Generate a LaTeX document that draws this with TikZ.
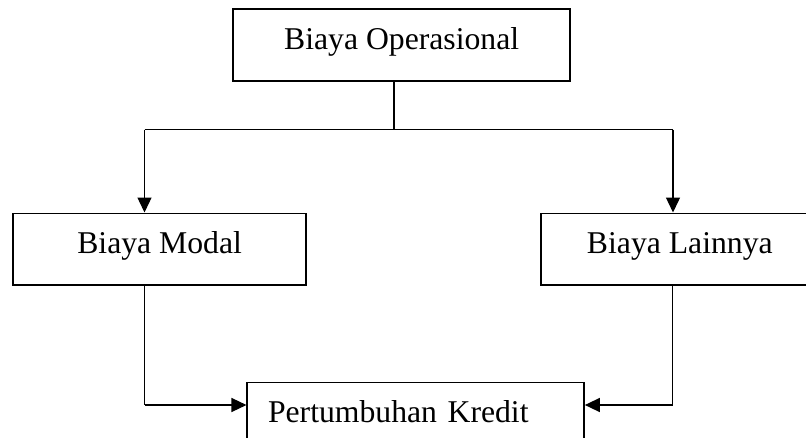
\documentclass[tikz,border=0pt]{standalone}
\usepackage{fontspec}
\setmainfont{Liberation Serif}
\usetikzlibrary{arrows.meta}
\begin{document}
\begin{tikzpicture}[x=1pt,y=-1pt,
  box/.style={draw=black,line width=1.7pt,rectangle,inner sep=0pt,
    minimum height=71.6pt,text height=21pt,text depth=12.6pt,
    font=\fontsize{31.7}{38}\selectfont},
  conn/.style={draw=black,line width=1.4pt},
  arr/.style={conn,-{Triangle[length=15pt,width=14pt]}}]
\useasboundingbox (0,0) rectangle (806,437);
\clip (0,0) rectangle (806,437);
\node[box,minimum width=336.7pt] (top) at (401.65,45) {Biaya Operasional};
\node[box,minimum width=292.7pt] (modal) at (159.65,249.15) {Biaya Modal};
\node[box,minimum width=278.3pt] (lain) at (679.85,249.15) {Biaya Lainnya};
\node[box,inner xsep=20.7pt,text width=295.3pt,align=left] (kredit) at (415.65,418.15) {Pertumbuhan Kredit};
\coordinate (j) at (394,129.5);
\coordinate (jl) at (144.5,129.5);
\coordinate (jr) at (673,129.5);
\coordinate (kl) at (144.5,405);
\coordinate (kr) at (672.5,405);
\draw[conn] (top.south -| j) -- (j);
\draw[conn] (jl) -- (jr);
\draw[arr] (jl) -- (jl |- modal.north);
\draw[arr] (jr) -- (jr |- lain.north);
\draw[conn] (kl |- modal.south) -- (kl);
\draw[arr] (kl) -- (kl -| kredit.west);
\draw[conn] (kr |- lain.south) -- (kr);
\draw[arr] (kr) -- (kr -| kredit.east);
\end{tikzpicture}
\end{document}
